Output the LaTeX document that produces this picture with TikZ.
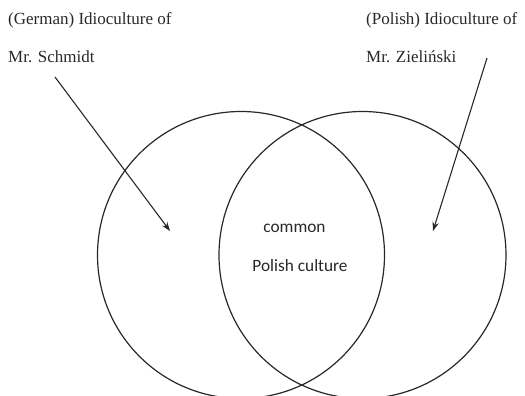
\documentclass[tikz,border=0pt]{standalone}
\usepackage{fontspec}
\setmainfont{Liberation Serif}
\newfontfamily\calib{Carlito}
\usetikzlibrary{arrows.meta}
\definecolor{ink}{HTML}{282828}
\tikzset{
  venn/.style={draw=ink, line width=1.2pt, circle, minimum size=287pt, inner sep=0pt},
  lbl/.style={anchor=west, inner sep=0pt, font=\fontsize{17}{20}\selectfont, text=ink},
  mid/.style={inner sep=0pt, font=\calib\fontsize{17.3}{20}\selectfont, text=ink},
  pointer/.style={draw=ink, line width=1.1pt, -{Stealth[length=9pt,width=6.5pt]}}
}
\begin{document}
\begin{tikzpicture}[x=1pt,y=-1pt]
\useasboundingbox (0,0) rectangle (525,396);
\node[venn] (L) at (241,255) {};
\node[venn] (R) at (362.5,255) {};
\node[lbl] (g1) at (8,20) {(German) Idioculture of};
\node[lbl] (g2) at (8,57) {Mr. Schmidt};
\node[lbl] (p1) at (366,20) {(Polish) Idioculture of};
\node[lbl] (p2) at (366,57) {Mr. Zieliński};
\node[mid] (c1) at (294.5,228) {common};
\node[mid] (c2) at (300,266) {Polish culture};
\coordinate (ls) at (55,77);
\coordinate (le) at (170,231);
\coordinate (rs) at (487,58);
\coordinate (re) at (433,231);
\draw[pointer] (ls) -- (le);
\draw[pointer] (rs) -- (re);
\end{tikzpicture}
\end{document}
